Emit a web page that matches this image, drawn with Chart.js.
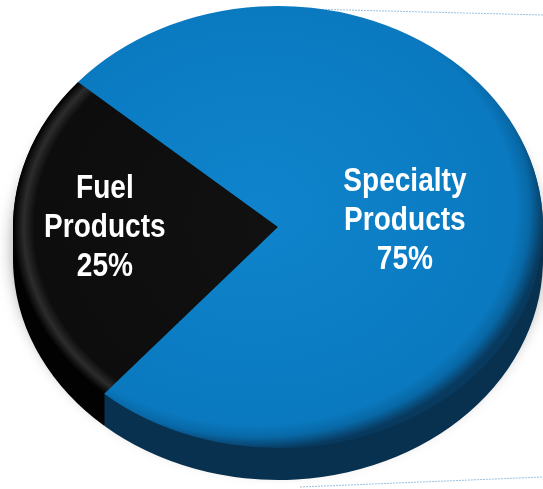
<!DOCTYPE html>
<html>
<head>
<meta charset="utf-8">
<script src="https://cdn.jsdelivr.net/npm/chart.js@4"></script>
<style>
  html, body { margin: 0; padding: 0; background: #fff; overflow: hidden; }
  #wrap { width: 543px; height: 489px; }
</style>
</head>
<body>
<div id="wrap"><canvas id="segmentChart" width="543" height="489"></canvas></div>
<script>
const categories = ['Fuel Products', 'Specialty Products'];
const labelLines = [['Fuel', 'Products', '25%'], ['Specialty', 'Products', '75%']];
const shares = [25, 75];
const topColors = ['#0e0e0e', '#0a7cc3'];
const sideColors = ['#020202', '#08304f'];

// the flat pie gets squashed onto a tilted disc
const DISC = { cx: 278, cy: 227, rx: 265, ry: 221, depth: 32 };
const LABEL_DIST = [0.655, 0.48];
const LABEL_NUDGE = [-9, 1];

function pieGeom(chart) {
    const a = chart.chartArea;
    return {
        x: (a.left + a.right) / 2,
        y: (a.top + a.bottom) / 2,
        r: Math.min(a.right - a.left, a.bottom - a.top) / 2
    };
}

function project(ctx, g, off) {
    ctx.translate(DISC.cx, DISC.cy + off);
    ctx.scale(DISC.rx / g.r, DISC.ry / g.r);
    ctx.translate(-g.x, -g.y);
}

// one path = the slice swept down through the wall depth
function wallPath(ctx, arc, from, to) {
    ctx.beginPath();
    for (let off = from; off <= to; off += 1) {
        ctx.moveTo(DISC.cx, DISC.cy + off);
        ctx.ellipse(DISC.cx, DISC.cy + off, DISC.rx, DISC.ry, 0, arc.startAngle, arc.endAngle);
        ctx.closePath();
    }
}

function topFill(context) {
    const chart = context.chart;
    const i = context.dataIndex;
    if (!chart.chartArea) return topColors[i];
    const g = pieGeom(chart);
    const c = chart.ctx;
    if (i === 0) {
        const gr = c.createRadialGradient(g.x, g.y, 0, g.x, g.y, g.r);
        gr.addColorStop(0, '#111111');
        gr.addColorStop(0.92, '#0d0d0d');
        gr.addColorStop(0.96, '#2c2c2c');
        gr.addColorStop(0.985, '#101010');
        gr.addColorStop(1, '#000000');
        return gr;
    }
    const ox = g.x - 0.08 * g.r, oy = g.y - 0.08 * g.r;
    const gr = c.createRadialGradient(ox, oy, 0, ox, oy, 1.085 * g.r);
    gr.addColorStop(0, '#0f84cc');
    gr.addColorStop(0.6, '#0b7dc4');
    gr.addColorStop(0.9, '#0a79bf');
    gr.addColorStop(0.95, '#0868a6');
    gr.addColorStop(1, '#083a5f');
    return gr;
}

const discPlugin = {
    id: 'disc',
    beforeDatasetsDraw(chart) {
        const ctx = chart.ctx;
        const g = pieGeom(chart);
        const arcs = chart.getDatasetMeta(0).data;

        // faint connector lines from the slide
        ctx.save();
        ctx.strokeStyle = 'rgba(70,140,200,0.55)';
        ctx.lineWidth = 1;
        ctx.setLineDash([2, 1]);
        ctx.beginPath();
        ctx.moveTo(268, 8); ctx.lineTo(543, 15);
        ctx.moveTo(300, 487); ctx.lineTo(543, 477);
        ctx.stroke();
        ctx.restore();

        // soft shadow under the disc
        ctx.save();
        ctx.shadowColor = 'rgba(0,0,0,0.4)';
        ctx.shadowBlur = 16;
        ctx.shadowOffsetY = 2;
        ctx.beginPath();
        ctx.ellipse(DISC.cx, DISC.cy + DISC.depth * 0.6, DISC.rx, DISC.ry, 0, 0, Math.PI * 2);
        ctx.fillStyle = '#08304f';
        ctx.fill();
        ctx.restore();

        // side wall
        arcs.forEach((arc, i) => {
            ctx.save();
            ctx.fillStyle = sideColors[i];
            wallPath(ctx, arc, 1, DISC.depth);
            ctx.fill();
            ctx.restore();
        });

        ctx.save();
        project(ctx, g, 0);
    },
    afterDatasetsDraw(chart) {
        const ctx = chart.ctx;
        ctx.restore();
        const arcs = chart.getDatasetMeta(0).data;
        arcs.forEach((arc, i) => {
            const mid = (arc.startAngle + arc.endAngle) / 2;
            const px = DISC.cx + LABEL_DIST[i] * DISC.rx * Math.cos(mid);
            const py = DISC.cy + LABEL_DIST[i] * DISC.ry * Math.sin(mid) + LABEL_NUDGE[i];
            ctx.save();
            ctx.fillStyle = '#ffffff';
            ctx.font = 'bold 33px "Liberation Sans", Arial, sans-serif';
            ctx.textAlign = 'center';
            ctx.textBaseline = 'middle';
            labelLines[i].forEach((line, j) => {
                ctx.save();
                ctx.translate(px, py + (j - 1) * 39);
                ctx.scale(0.85, 1);
                ctx.fillText(line, 0, 0);
                ctx.restore();
            });
            ctx.restore();
        });
    }
};

new Chart(document.getElementById('segmentChart'), {
    type: 'pie',
    data: {
        labels: categories,
        datasets: [{
            data: shares,
            backgroundColor: topFill,
            borderWidth: 0
        }]
    },
    options: {
        responsive: false,
        animation: false,
        events: [],
        rotation: 221,
        layout: { padding: 0 },
        plugins: {
            legend: { display: false },
            tooltip: { enabled: false }
        }
    },
    plugins: [discPlugin]
});
</script>
</body>
</html>
